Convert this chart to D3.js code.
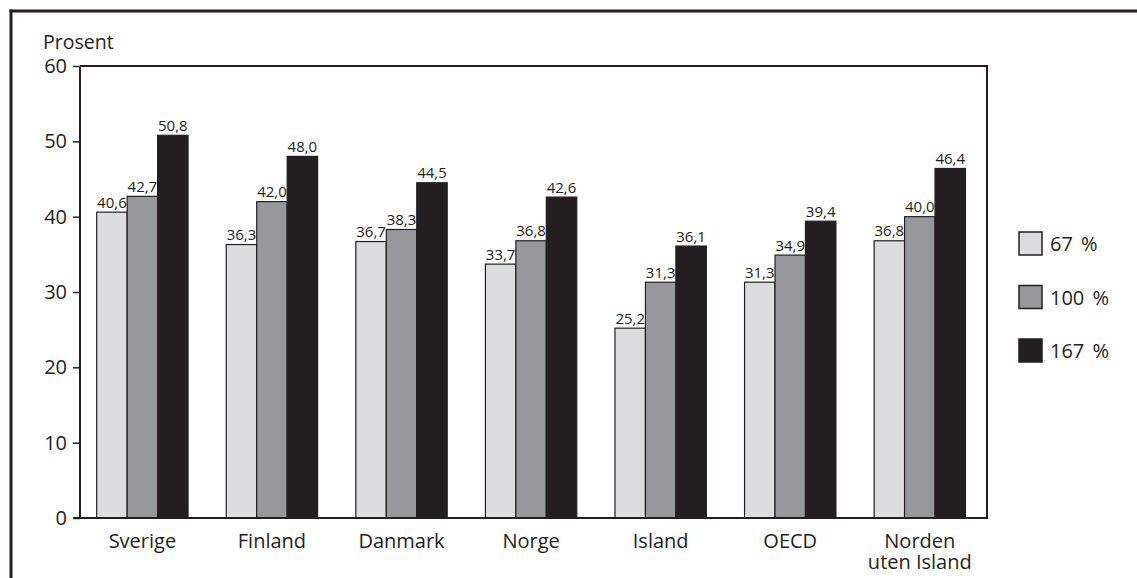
<!DOCTYPE html>
<html>
<head>
<meta charset="utf-8">
<script src="https://cdn.jsdelivr.net/npm/d3@7"></script>
<style>
  html, body { margin: 0; padding: 0; background: #fff; }
  svg { display: block; font-family: "Open Sans", "Noto Sans", sans-serif; }
</style>
</head>
<body>
<svg id="chart" width="1137" height="578"></svg>
<script>
// Categories, series and tick values
const categories = [["Sverige"], ["Finland"], ["Danmark"], ["Norge"], ["Island"], ["OECD"], ["Norden", "uten Island"]];
const seriesNames = ["67 %", "100 %", "167 %"];
const values67 = [40.6, 36.3, 36.7, 33.7, 25.2, 31.3, 36.8];
const values100 = [42.7, 42.0, 38.3, 36.8, 31.3, 34.9, 40.0];
const values167 = [50.8, 48.0, 44.5, 42.6, 36.1, 39.4, 46.4];
const yTicks = [0, 10, 20, 30, 40, 50, 60];
const yLabel = "Prosent";

const seriesValues = [values67, values100, values167];
const colors = ["#dcdddf", "#97989b", "#231f20"];
const ink = "#231f20";

const svg = d3.select("#chart");

// Outer frame: top and left rules
svg.append("line").attr("x1", 9.5).attr("x2", 1137).attr("y1", 11).attr("y2", 11)
  .attr("stroke", ink).attr("stroke-width", 3);
svg.append("line").attr("x1", 11).attr("x2", 11).attr("y1", 9.5).attr("y2", 578)
  .attr("stroke", ink).attr("stroke-width", 3);

const plot = { left: 80, right: 987, top: 66, bottom: 518 };

const y = d3.scaleLinear().domain([0, 60]).range([plot.bottom, plot.top]);
const x = d3.scaleBand().domain(d3.range(categories.length)).range([plot.left, plot.right]);
// bars inside each category band
const xs = d3.scaleBand().domain(d3.range(seriesNames.length))
  .range([16.7, 16.7 + 3 * 30.45]);

// Plot box: top and right edges
svg.append("path")
  .attr("d", `M${plot.left},${plot.top}H${plot.right}V${plot.bottom}`)
  .attr("fill", "none").attr("stroke", ink).attr("stroke-width", 2);

// Bars with value labels, drawn bar by bar so that later bars overlap earlier labels
const groups = svg.append("g");
categories.forEach((cat, i) => {
  const g = groups.append("g").attr("transform", `translate(${x(i)},0)`);
  seriesValues.forEach((vals, s) => {
    const v = vals[i];
    const bx = xs(s), bw = xs.bandwidth();
    g.append("rect")
      .attr("x", bx).attr("y", y(v))
      .attr("width", bw).attr("height", y(0) - y(v))
      .attr("fill", colors[s]).attr("stroke", ink).attr("stroke-width", 1.2);
    g.append("text")
      .attr("x", bx + bw / 2).attr("y", y(v) - 4.5)
      .attr("text-anchor", "middle")
      .attr("font-size", 15).attr("fill", ink)
      .text(v.toFixed(1).replace(".", ","));
  });
});

// Y axis
const yAxis = svg.append("g").attr("transform", `translate(${plot.left},0)`)
  .call(d3.axisLeft(y).tickValues(yTicks).tickSize(7).tickPadding(6).tickFormat(d => d));
yAxis.select(".domain").attr("stroke", ink).attr("stroke-width", 2)
  .attr("d", `M0,${plot.top}V${plot.bottom}`);
yAxis.selectAll(".tick line").attr("stroke", ink).attr("stroke-width", 1.5);
yAxis.selectAll(".tick text").attr("font-size", 20).attr("fill", ink)
  .attr("font-family", "Open Sans, Noto Sans, sans-serif");

// Baseline
svg.append("line").attr("x1", plot.left - 7).attr("x2", plot.right + 1)
  .attr("y1", plot.bottom).attr("y2", plot.bottom)
  .attr("stroke", ink).attr("stroke-width", 2);

svg.append("text").attr("x", 43).attr("y", 49)
  .attr("font-size", 19.5).attr("fill", ink).text(yLabel);

// Category labels
categories.forEach((lines, i) => {
  const cx = x(i) + 16.7 + 1.5 * 30.45;
  const t = svg.append("text").attr("text-anchor", "middle")
    .attr("font-size", 20).attr("fill", ink);
  lines.forEach((ln, k) => {
    t.append("tspan").attr("x", cx).attr("y", 548 + k * 21).text(ln);
  });
});

// Legend
const legend = svg.append("g").attr("transform", "translate(1019,232)");
seriesNames.forEach((name, s) => {
  const g = legend.append("g").attr("transform", `translate(0,${s * 53.5})`);
  g.append("rect").attr("width", 23).attr("height", 23)
    .attr("fill", colors[s]).attr("stroke", ink).attr("stroke-width", 1.5);
  g.append("text").attr("x", 31).attr("y", 19)
    .attr("font-size", 20).attr("fill", ink)
    .attr("word-spacing", 3).attr("xml:space", "preserve").text(name);
});
</script>
</body>
</html>
